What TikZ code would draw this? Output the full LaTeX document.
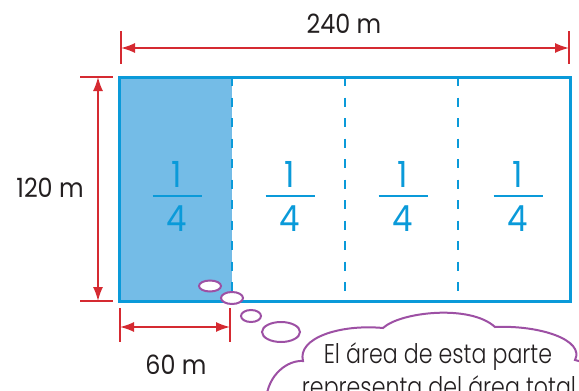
\documentclass[tikz,border=0pt]{standalone}
\usepackage{fontspec}
\setmainfont{Poppins}[FakeStretch=0.9]
\newfontfamily\cloudfont{Poppins Light}[FakeStretch=0.82]
\usetikzlibrary{arrows.meta,shapes.geometric}
\definecolor{fieldblue}{HTML}{0A9AD9}
\definecolor{fieldfill}{HTML}{74BCE7}
\definecolor{dimred}{HTML}{D52A31}
\definecolor{thinkpurple}{HTML}{9D50A4}
\definecolor{labelgray}{HTML}{231F20}
\tikzset{
    dimline/.style={dimred, line width=1.6pt, {Latex[length=14pt,width=10pt]}-{Latex[length=14pt,width=10pt]}},
    dimtick/.style={dimred, line width=2pt},
    dimlabel/.style={text=labelgray, font=\fontsize{26.5}{30}\selectfont, inner sep=0pt},
    fraction/.style={text=fieldblue, font=\fontsize{36}{40}\selectfont, inner sep=0pt},
    bubble/.style={ellipse, draw=thinkpurple, fill=white, line width=2pt, inner sep=0pt},
    thought/.style={text=labelgray, font=\cloudfont\fontsize{27}{33}\selectfont, inner sep=0pt, anchor=base},
}
\begin{document}
\begin{tikzpicture}[x=1pt, y=-1pt]
    \useasboundingbox (0,0) rectangle (579,391);
    \clip (0,0) rectangle (579,391);
    \def\L{119} \def\R{570} \def\T{77} \def\B{301} % corners of the field

    \fill[fieldfill] (\L,\T) rectangle (232,\B);
    \foreach \x in {232,345,458}
        \draw[fieldblue, line width=2.6pt, dash pattern=on 9pt off 11.5pt] (\x,\T) -- (\x,\B);
    \draw[fieldblue, line width=3pt] (\L,\T) rectangle (\R,\B);

    \foreach[count=\i] \x in {177,290,403,518} {
        \node[fraction] (num\i) at (\x,174) {1};
        \node[fraction] (den\i) at (\x,219) {4};
        \draw[fieldblue, line width=2pt] (\x-24.5,196) -- (\x+24.5,196);
    }

    \draw[dimtick] (121,31) -- (121,64);
    \draw[dimtick] (569,31) -- (569,64);
    \coordinate (wl) at (121,48);
    \coordinate (wr) at (569,48);
    \draw[dimline] (wl) -- (wr);
    \node[dimlabel] (wlab) at (344,24) {240 m};

    \draw[dimtick] (80,\T) -- (113,\T);
    \draw[dimtick] (80,\B) -- (113,\B);
    \coordinate (ht) at (98,\T);
    \coordinate (hb) at (98,\B);
    \draw[dimline] (ht) -- (hb);
    \node[dimlabel] (hlab) at (50,188) {120 m};

    \draw[dimtick] (120,308) -- (120,342);
    \draw[dimtick] (230,308) -- (230,342);
    \coordinate (ql) at (120,327);
    \coordinate (qr) at (230,327);
    \draw[dimline] (ql) -- (qr);
    \node[dimlabel] (qlab) at (176,365) {60 m};

    \node[bubble, minimum width=22pt, minimum height=11pt] (b1) at (210,286) {};
    \node[bubble, minimum width=22pt, minimum height=12pt] (b2) at (232,298) {};
    \node[bubble, minimum width=20pt, minimum height=12pt] (b3) at (251,316) {};
    \node[bubble, minimum width=38pt, minimum height=20pt] (b4) at (281,332) {};

    \draw[thinkpurple, line width=2pt, fill=white]
        (266,400) .. controls (268,374) and (288,360) .. (303,361)
        .. controls (297,338) and (340,324) .. (383,328)
        .. controls (400,312) and (470,304) .. (495,327)
        .. controls (540,325) and (585,340) .. (575,360)
        .. controls (590,362) and (600,380) .. (600,400) -- cycle;
    \node[thought] (line1) at (438,363) {El área de esta parte};
    \node[thought] (line2) at (439,396) {representa del área total};
\end{tikzpicture}
\end{document}
